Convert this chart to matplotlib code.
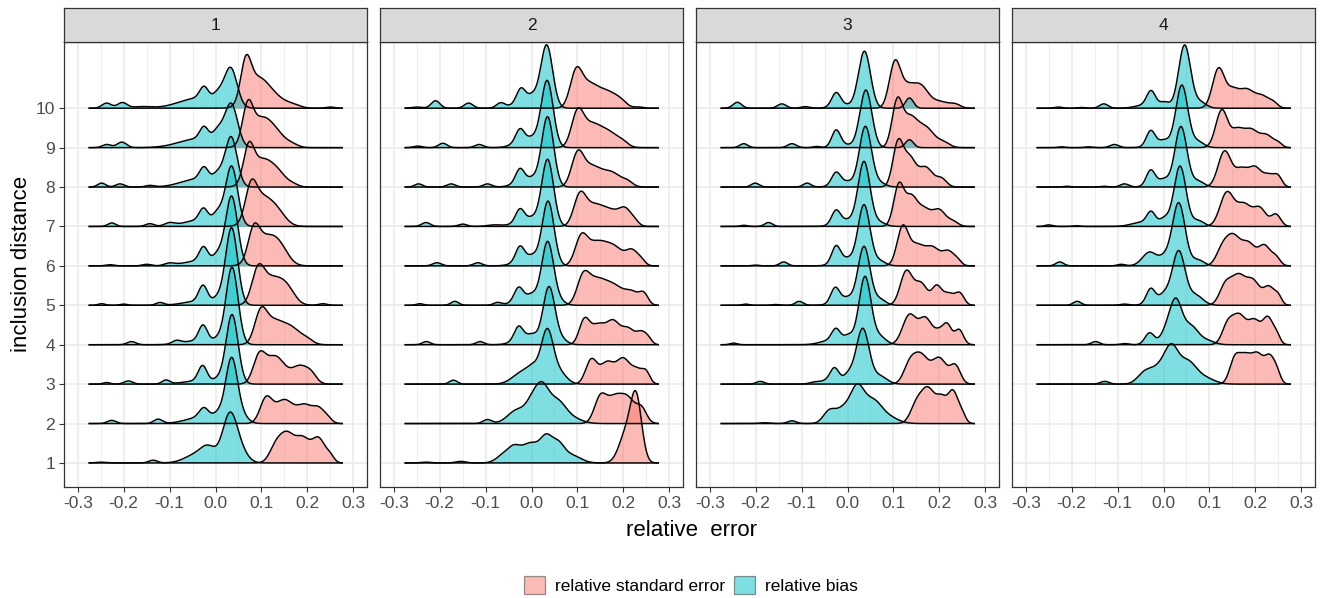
"""
Ridgeline densities of relative error (standard error vs bias) by inclusion
distance, four facets, ggplot/ggridges look.
"""

import numpy as np
import matplotlib

matplotlib.use("Agg")
import matplotlib.pyplot as plt
from matplotlib.patches import Patch

plt.rcParams["font.family"] = ["Liberation Sans", "DejaVu Sans"]

# --- data ----------------------------------------------------------------
# every ridge = list of density bumps (centre, height in row units, spread)
facet_labels = ["1", "2", "3", "4"]
series_labels = ["relative standard error", "relative bias"]
x_ticks = [-0.3, -0.2, -0.1, 0.0, 0.1, 0.2, 0.3]
y_ticks = list(range(1, 11))
data_range = (-0.275, 0.276)

rows_1 = [10, 9, 8, 7, 6, 5, 4, 3, 2, 1]
rows_2 = [10, 9, 8, 7, 6, 5, 4, 3, 2, 1]
rows_3 = [10, 9, 8, 7, 6, 5, 4, 3, 2]
rows_4 = [10, 9, 8, 7, 6, 5, 4, 3]

rse_1 = [
    [(0.066, 0.95, 0.010), (0.090, 0.65, 0.022), (0.125, 0.28, 0.025), (0.170, 0.06, 0.015), (0.250, 0.03, 0.008)],
    [(0.070, 0.88, 0.010), (0.098, 0.68, 0.022), (0.132, 0.30, 0.020), (0.168, 0.06, 0.012)],
    [(0.072, 0.83, 0.010), (0.100, 0.66, 0.022), (0.136, 0.30, 0.018), (0.170, 0.05, 0.010)],
    [(0.077, 0.75, 0.011), (0.100, 0.70, 0.022), (0.135, 0.30, 0.018)],
    [(0.083, 0.70, 0.011), (0.108, 0.65, 0.022), (0.140, 0.40, 0.018)],
    [(0.092, 0.72, 0.012), (0.120, 0.65, 0.022), (0.155, 0.38, 0.017), (0.234, 0.04, 0.008)],
    [(0.098, 0.70, 0.012), (0.125, 0.55, 0.020), (0.165, 0.40, 0.020), (0.200, 0.10, 0.012)],
    [(0.095, 0.65, 0.012), (0.130, 0.70, 0.020), (0.185, 0.45, 0.018), (0.210, 0.15, 0.010)],
    [(0.110, 0.60, 0.012), (0.150, 0.60, 0.020), (0.195, 0.42, 0.015), (0.225, 0.35, 0.012), (0.245, 0.10, 0.008)],
    [(0.130, 0.35, 0.012), (0.155, 0.70, 0.015), (0.190, 0.60, 0.015), (0.225, 0.60, 0.013), (0.250, 0.15, 0.007)],
]
bias_1 = [
    [(-0.237, 0.13, 0.009), (-0.203, 0.14, 0.009), (-0.16, 0.04, 0.02), (-0.04, 0.25, 0.04), (-0.025, 0.32, 0.008), (0.005, 0.22, 0.010), (0.033, 0.98, 0.013)],
    [(-0.237, 0.08, 0.008), (-0.204, 0.14, 0.009), (-0.04, 0.22, 0.04), (-0.025, 0.33, 0.008), (0.005, 0.30, 0.010), (0.034, 1.08, 0.013)],
    [(-0.248, 0.10, 0.007), (-0.208, 0.08, 0.008), (-0.143, 0.04, 0.008), (-0.04, 0.20, 0.035), (-0.025, 0.33, 0.008), (0.005, 0.25, 0.010), (0.034, 1.25, 0.012)],
    [(-0.226, 0.09, 0.007), (-0.143, 0.07, 0.008), (-0.10, 0.08, 0.010), (-0.04, 0.15, 0.030), (-0.026, 0.33, 0.008), (0.005, 0.30, 0.010), (0.035, 1.52, 0.012)],
    [(-0.23, 0.03, 0.008), (-0.15, 0.04, 0.008), (-0.10, 0.06, 0.010), (-0.04, 0.12, 0.030), (-0.026, 0.38, 0.008), (0.005, 0.25, 0.010), (0.035, 1.76, 0.012)],
    [(-0.248, 0.04, 0.006), (-0.20, 0.03, 0.006), (-0.121, 0.07, 0.007), (-0.04, 0.10, 0.030), (-0.027, 0.42, 0.008), (0.005, 0.15, 0.010), (0.035, 1.96, 0.012)],
    [(-0.183, 0.08, 0.008), (-0.085, 0.08, 0.008), (-0.04, 0.10, 0.030), (-0.027, 0.41, 0.008), (0.005, 0.12, 0.010), (0.036, 1.96, 0.012)],
    [(-0.237, 0.04, 0.006), (-0.19, 0.08, 0.008), (-0.108, 0.10, 0.007), (-0.04, 0.08, 0.030), (-0.028, 0.40, 0.008), (0.005, 0.10, 0.010), (0.036, 1.76, 0.012)],
    [(-0.226, 0.08, 0.008), (-0.125, 0.11, 0.008), (-0.035, 0.15, 0.030), (-0.025, 0.26, 0.009), (0.005, 0.18, 0.010), (0.035, 1.64, 0.012), (0.060, 0.15, 0.012)],
    [(-0.25, 0.02, 0.010), (-0.136, 0.07, 0.008), (-0.04, 0.22, 0.025), (-0.015, 0.30, 0.015), (0.031, 1.20, 0.015), (0.055, 0.25, 0.015)],
]

rse_2 = [
    [(0.097, 0.85, 0.012), (0.125, 0.55, 0.018), (0.165, 0.40, 0.020), (0.195, 0.12, 0.012), (0.234, 0.03, 0.008)],
    [(0.100, 0.80, 0.012), (0.130, 0.55, 0.020), (0.170, 0.35, 0.020), (0.200, 0.08, 0.010)],
    [(0.100, 0.75, 0.012), (0.130, 0.50, 0.020), (0.175, 0.35, 0.020), (0.210, 0.10, 0.010)],
    [(0.105, 0.70, 0.012), (0.135, 0.50, 0.020), (0.175, 0.35, 0.020), (0.205, 0.35, 0.012), (0.225, 0.10, 0.008)],
    [(0.108, 0.65, 0.012), (0.140, 0.55, 0.020), (0.180, 0.45, 0.020), (0.220, 0.35, 0.012), (0.240, 0.10, 0.007)],
    [(0.112, 0.60, 0.012), (0.140, 0.60, 0.020), (0.180, 0.45, 0.020), (0.220, 0.30, 0.015), (0.245, 0.25, 0.008)],
    [(0.115, 0.60, 0.010), (0.145, 0.50, 0.015), (0.178, 0.55, 0.013), (0.210, 0.40, 0.013), (0.240, 0.30, 0.010), (0.255, 0.10, 0.006)],
    [(0.130, 0.60, 0.011), (0.165, 0.55, 0.015), (0.200, 0.60, 0.013), (0.230, 0.35, 0.012), (0.250, 0.25, 0.007)],
    [(0.150, 0.65, 0.012), (0.180, 0.60, 0.015), (0.210, 0.60, 0.015), (0.240, 0.35, 0.010)],
    [(0.205, 0.70, 0.014), (0.228, 1.60, 0.011)],
]
bias_2 = [
    [(-0.25, 0.03, 0.010), (-0.209, 0.19, 0.008), (-0.137, 0.13, 0.008), (-0.067, 0.13, 0.008), (-0.02, 0.15, 0.020), (-0.023, 0.35, 0.008), (0.002, 0.22, 0.010), (0.033, 1.60, 0.012)],
    [(-0.248, 0.04, 0.008), (-0.193, 0.11, 0.008), (-0.114, 0.08, 0.008), (-0.02, 0.15, 0.020), (-0.025, 0.33, 0.008), (0.002, 0.15, 0.010), (0.034, 1.70, 0.012)],
    [(-0.246, 0.08, 0.007), (-0.175, 0.08, 0.008), (-0.096, 0.08, 0.008), (-0.02, 0.12, 0.020), (-0.025, 0.35, 0.008), (0.002, 0.15, 0.010), (0.035, 1.78, 0.012)],
    [(-0.23, 0.10, 0.008), (-0.15, 0.06, 0.008), (-0.08, 0.04, 0.015), (-0.02, 0.12, 0.020), (-0.025, 0.33, 0.008), (0.002, 0.14, 0.010), (0.035, 1.70, 0.012)],
    [(-0.206, 0.08, 0.008), (-0.117, 0.08, 0.008), (-0.02, 0.12, 0.020), (-0.025, 0.38, 0.008), (0.002, 0.18, 0.010), (0.036, 1.64, 0.012)],
    [(-0.243, 0.04, 0.006), (-0.167, 0.10, 0.007), (-0.074, 0.07, 0.007), (-0.02, 0.15, 0.020), (-0.028, 0.32, 0.008), (0.002, 0.18, 0.010), (0.035, 1.60, 0.012), (0.060, 0.10, 0.012)],
    [(-0.229, 0.08, 0.007), (-0.112, 0.08, 0.007), (-0.02, 0.15, 0.020), (-0.028, 0.33, 0.008), (0.002, 0.17, 0.010), (0.038, 1.46, 0.012), (0.065, 0.12, 0.012)],
    [(-0.17, 0.10, 0.007), (-0.02, 0.30, 0.020), (0.005, 0.30, 0.012), (0.034, 1.30, 0.012), (0.060, 0.30, 0.015)],
    [(-0.096, 0.10, 0.008), (-0.03, 0.35, 0.020), (0.000, 0.35, 0.012), (0.022, 0.85, 0.014), (0.055, 0.55, 0.018), (0.090, 0.12, 0.020)],
    [(-0.23, 0.02, 0.010), (-0.154, 0.04, 0.010), (-0.06, 0.20, 0.015), (-0.038, 0.28, 0.012), (-0.002, 0.50, 0.020), (0.033, 0.55, 0.012), (0.058, 0.40, 0.012), (0.085, 0.20, 0.020)],
]

rse_3 = [
    [(0.103, 1.10, 0.011), (0.130, 0.50, 0.015), (0.160, 0.50, 0.015), (0.200, 0.17, 0.020), (0.235, 0.08, 0.010)],
    [(0.108, 1.10, 0.010), (0.135, 0.70, 0.015), (0.170, 0.50, 0.018), (0.210, 0.12, 0.012)],
    [(0.110, 1.10, 0.010), (0.135, 0.70, 0.012), (0.170, 0.50, 0.015), (0.205, 0.20, 0.010)],
    [(0.112, 1.05, 0.010), (0.138, 0.65, 0.011), (0.165, 0.45, 0.015), (0.200, 0.40, 0.013), (0.230, 0.12, 0.010)],
    [(0.120, 0.95, 0.011), (0.150, 0.50, 0.015), (0.185, 0.45, 0.015), (0.220, 0.35, 0.012), (0.240, 0.10, 0.007)],
    [(0.128, 0.85, 0.012), (0.160, 0.55, 0.013), (0.194, 0.45, 0.009), (0.220, 0.30, 0.012), (0.245, 0.28, 0.008)],
    [(0.135, 0.75, 0.014), (0.170, 0.65, 0.013), (0.200, 0.30, 0.010), (0.218, 0.45, 0.008), (0.243, 0.38, 0.008)],
    [(0.135, 0.45, 0.012), (0.160, 0.70, 0.015), (0.200, 0.65, 0.015), (0.235, 0.45, 0.010)],
    [(0.150, 0.45, 0.012), (0.176, 0.85, 0.014), (0.205, 0.55, 0.010), (0.230, 0.80, 0.010), (0.250, 0.20, 0.006)],
]
bias_3 = [
    [(-0.24, 0.15, 0.008), (-0.143, 0.11, 0.008), (-0.092, 0.04, 0.008), (-0.01, 0.09, 0.020), (-0.025, 0.33, 0.008), (0.037, 1.44, 0.012), (0.135, 0.26, 0.007)],
    [(-0.226, 0.10, 0.007), (-0.121, 0.10, 0.008), (-0.067, 0.03, 0.006), (-0.005, 0.07, 0.015), (-0.025, 0.42, 0.008), (0.040, 1.46, 0.012), (0.135, 0.20, 0.007)],
    [(-0.201, 0.10, 0.007), (-0.088, 0.10, 0.007), (-0.01, 0.10, 0.020), (-0.025, 0.30, 0.008), (0.002, 0.05, 0.010), (0.039, 1.53, 0.012), (0.070, 0.10, 0.012)],
    [(-0.226, 0.03, 0.006), (-0.172, 0.10, 0.007), (-0.01, 0.10, 0.020), (-0.025, 0.34, 0.008), (0.002, 0.07, 0.010), (0.036, 1.64, 0.012), (0.070, 0.10, 0.012)],
    [(-0.20, 0.02, 0.006), (-0.139, 0.10, 0.007), (-0.01, 0.12, 0.020), (-0.025, 0.42, 0.008), (0.002, 0.08, 0.010), (0.036, 1.54, 0.012), (0.070, 0.12, 0.012)],
    [(-0.222, 0.03, 0.006), (-0.157, 0.02, 0.006), (-0.105, 0.10, 0.007), (-0.01, 0.12, 0.020), (-0.027, 0.37, 0.008), (0.002, 0.09, 0.010), (0.036, 1.48, 0.012), (0.070, 0.15, 0.012)],
    [(-0.248, 0.04, 0.006), (-0.04, 0.10, 0.020), (-0.025, 0.33, 0.008), (0.002, 0.22, 0.010), (0.038, 1.72, 0.012), (0.070, 0.20, 0.013)],
    [(-0.19, 0.07, 0.007), (-0.074, 0.03, 0.008), (-0.04, 0.10, 0.020), (-0.028, 0.33, 0.008), (0.002, 0.22, 0.010), (0.033, 1.40, 0.013), (0.070, 0.20, 0.015)],
    [(-0.18, 0.02, 0.010), (-0.121, 0.07, 0.008), (-0.04, 0.30, 0.012), (-0.01, 0.35, 0.015), (0.021, 0.85, 0.014), (0.055, 0.55, 0.018), (0.090, 0.15, 0.020)],
]

rse_4 = [
    [(0.120, 1.00, 0.012), (0.150, 0.40, 0.012), (0.180, 0.45, 0.015), (0.215, 0.30, 0.015), (0.240, 0.10, 0.008)],
    [(0.127, 0.95, 0.012), (0.160, 0.40, 0.012), (0.190, 0.45, 0.015), (0.225, 0.30, 0.013), (0.250, 0.10, 0.007)],
    [(0.133, 0.90, 0.013), (0.170, 0.45, 0.014), (0.200, 0.45, 0.012), (0.230, 0.30, 0.012), (0.250, 0.22, 0.007)],
    [(0.138, 0.85, 0.014), (0.175, 0.55, 0.015), (0.210, 0.45, 0.013), (0.245, 0.30, 0.009)],
    [(0.128, 0.40, 0.012), (0.152, 0.70, 0.014), (0.185, 0.55, 0.014), (0.220, 0.50, 0.012), (0.245, 0.20, 0.008)],
    [(0.135, 0.50, 0.012), (0.163, 0.70, 0.014), (0.195, 0.60, 0.014), (0.230, 0.45, 0.011), (0.250, 0.20, 0.006)],
    [(0.140, 0.50, 0.011), (0.165, 0.70, 0.013), (0.198, 0.60, 0.013), (0.228, 0.65, 0.010), (0.247, 0.20, 0.006)],
    [(0.155, 0.60, 0.010), (0.178, 0.65, 0.012), (0.205, 0.70, 0.012), (0.232, 0.65, 0.010), (0.248, 0.20, 0.006)],
]
bias_4 = [
    [(-0.23, 0.03, 0.007), (-0.18, 0.02, 0.007), (-0.13, 0.11, 0.008), (-0.04, 0.08, 0.020), (-0.027, 0.38, 0.008), (0.002, 0.15, 0.010), (0.046, 1.60, 0.012), (0.080, 0.15, 0.012)],
    [(-0.222, 0.02, 0.006), (-0.164, 0.02, 0.006), (-0.107, 0.08, 0.008), (-0.01, 0.08, 0.020), (-0.028, 0.38, 0.008), (0.002, 0.12, 0.010), (0.040, 1.58, 0.012), (0.075, 0.15, 0.012)],
    [(-0.21, 0.02, 0.006), (-0.13, 0.02, 0.006), (-0.085, 0.08, 0.008), (-0.01, 0.08, 0.020), (-0.028, 0.38, 0.008), (0.002, 0.13, 0.010), (0.038, 1.53, 0.012), (0.075, 0.15, 0.012)],
    [(-0.25, 0.04, 0.006), (-0.19, 0.02, 0.006), (-0.05, 0.10, 0.020), (-0.027, 0.33, 0.008), (0.002, 0.20, 0.010), (0.036, 1.53, 0.012), (0.075, 0.15, 0.012)],
    [(-0.226, 0.10, 0.007), (-0.092, 0.04, 0.007), (-0.03, 0.35, 0.015), (0.002, 0.18, 0.010), (0.033, 1.60, 0.013), (0.075, 0.15, 0.012)],
    [(-0.188, 0.10, 0.007), (-0.085, 0.03, 0.008), (-0.01, 0.10, 0.020), (-0.028, 0.36, 0.008), (0.002, 0.18, 0.010), (0.033, 1.36, 0.013), (0.070, 0.25, 0.015)],
    [(-0.148, 0.08, 0.007), (-0.085, 0.03, 0.007), (-0.03, 0.30, 0.009), (0.002, 0.20, 0.010), (0.026, 1.12, 0.013), (0.060, 0.45, 0.015), (0.095, 0.10, 0.015)],
    [(-0.128, 0.07, 0.008), (-0.04, 0.30, 0.015), (-0.01, 0.35, 0.015), (0.017, 0.85, 0.014), (0.052, 0.55, 0.018), (0.090, 0.15, 0.020)],
]

facets = [
    (rows_1, rse_1, bias_1),
    (rows_2, rse_2, bias_2),
    (rows_3, rse_3, bias_3),
    (rows_4, rse_4, bias_4),
]

# --- style ------------------------------------------------------------------
fills = ["#F8766D", "#00BFC4"]
W, H = 1326, 598
panel_left, panel_step, panel_w = 64, 316, 303
panel_top, panel_bottom = 42, 487
strip_top = 8
bandwidth = 0.005  # kernel smoothing added to each bump


def ridge(xs, comps):
    out = np.zeros_like(xs)
    for c, h, s in comps:
        var = s ** 2 + bandwidth ** 2
        out += h * np.exp(-0.5 * (xs - c) ** 2 / var)
    return out


fig = plt.figure(figsize=(W / 100, H / 100), dpi=100)
xs = np.linspace(data_range[0], data_range[1], 700)

for i, (rows, rse, bias) in enumerate(facets):
    left = panel_left + i * panel_step
    ax = fig.add_axes([left / W, 1 - panel_bottom / H, panel_w / W, (panel_bottom - panel_top) / H])
    ax.set_xlim(-0.33, 0.33)
    ax.set_ylim(0.39, 11.68)
    ax.set_xticks(x_ticks)
    ax.set_xticks([-0.25, -0.15, -0.05, 0.05, 0.15, 0.25], minor=True)
    ax.set_xticklabels([f"{t:.1f}" for t in x_ticks])
    ax.set_yticks(y_ticks)
    ax.set_axisbelow(True)
    ax.grid(which="major", color="#EBEBEB", lw=1.2)
    ax.grid(which="minor", axis="x", color="#EBEBEB", lw=0.6)
    ax.tick_params(which="minor", length=0)
    ax.tick_params(which="major", length=3.5, width=0.8, color="#333333",
                   labelsize=12.5, labelcolor="#4D4D4D", pad=3)
    if i == 0:
        ax.set_yticklabels([str(t) for t in y_ticks])
    else:
        ax.tick_params(axis="y", length=0, labelleft=False)
    for sp in ax.spines.values():
        sp.set_color("#333333")
        sp.set_linewidth(0.9)

    for row, c_rse, c_bias in zip(rows, rse, bias):
        for comps, col in ((c_rse, fills[0]), (c_bias, fills[1])):
            ys = ridge(xs, comps)
            ax.fill_between(xs, row, row + ys, color=col, alpha=0.5, lw=0)
            ax.plot(xs, row + ys, color="black", lw=1.05)

    sax = fig.add_axes([left / W, 1 - panel_top / H, panel_w / W, (panel_top - strip_top) / H])
    sax.set_facecolor("#D9D9D9")
    sax.set_xticks([])
    sax.set_yticks([])
    for sp in sax.spines.values():
        sp.set_color("#333333")
        sp.set_linewidth(0.9)
    sax.text(0.5, 0.5, facet_labels[i], ha="center", va="center",
             fontsize=12.5, color="#1A1A1A", transform=sax.transAxes)

fig.text(691 / W, 1 - 530 / H, "relative  error", ha="center", va="center", fontsize=16)
fig.text(22 / W, 1 - 264 / H, "inclusion distance", ha="center", va="center",
         rotation=90, fontsize=16)

handles = [Patch(facecolor=c, alpha=0.5, edgecolor="#333333", lw=0.9) for c in fills]
fig.legend(handles, series_labels, loc="center", bbox_to_anchor=(691 / W, 1 - 585 / H),
           ncol=2, frameon=False, fontsize=12.5, handlelength=1.2, handleheight=1.2,
           handletextpad=0.6, columnspacing=0.5, borderaxespad=0)

fig.savefig("out.png", dpi=100)
